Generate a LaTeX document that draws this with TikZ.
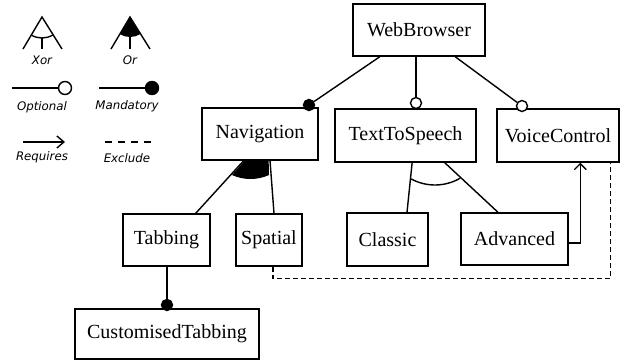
\documentclass[tikz,border=0pt]{standalone}
\usepackage{fontspec}
\setmainfont{Liberation Serif}
\newfontfamily\legendfont{DejaVu Sans}
\usetikzlibrary{arrows.meta,calc,backgrounds}
\begin{document}
\begin{tikzpicture}[x=1pt,y=-1pt,
  feat/.style={draw,line width=1.4pt,fill=white,inner sep=0pt,font=\fontsize{20}{24}\selectfont},
  conn/.style={line width=1.4pt},
  mand/.style={circle,fill=black,draw=black,line width=1.4pt,minimum size=11pt,inner sep=0pt},
  opt/.style={circle,fill=white,draw=black,line width=1.4pt,minimum size=11pt,inner sep=0pt},
  leg/.style={font=\legendfont\itshape\fontsize{11.8}{14}\selectfont,inner sep=0pt},
  req/.style={line width=1.4pt,-{Straight Barb[length=6pt,width=12pt]}},
  excl/.style={line width=1.4pt,dash pattern=on 5pt off 3pt}
]
\useasboundingbox (0,0) rectangle (625,361);

% ---------- legend ----------
\draw[conn] (23,49) -- (42,17) -- (62,49);
\draw[conn] ([shift={(120.7:21)}]42,17) arc[start angle=120.7,end angle=59.3,radius=21];
\draw[conn] (42,38) -- (42,49);
\node[leg] (lxor) at (42,60) {Xor};

\fill (130,17) -- ([shift={(120.7:20)}]130,17) arc[start angle=120.7,end angle=58,radius=20] -- cycle;
\draw[conn] (111,49) -- (130,17) -- (150,49);
\draw[conn] (130,37) -- (130,49);
\node[leg] (lor) at (130,60) {Or};

\coordinate (lopts) at (12,88);
\node[opt,minimum size=13pt] (lopt) at (65,88) {};
\draw[conn] (lopts) -- (lopt);
\node[leg] (loptl) at (42,107) {Optional};

\coordinate (lmands) at (99,88);
\node[mand,minimum size=13pt] (lmand) at (152,88) {};
\draw[conn] (lmands) -- (lmand);
\node[leg] (lmandl) at (127,106) {Mandatory};

\coordinate (lreqs) at (23,142);
\coordinate (lreqe) at (65,142);
\draw[line width=1.4pt,-{Straight Barb[length=7pt,width=12pt]}] (lreqs) -- (lreqe);
\node[leg] (lreql) at (42,157) {Requires};

\coordinate (lexs) at (105,142);
\coordinate (lexe) at (152,142);
\draw[line width=1.6pt,dash pattern=on 7pt off 6pt] (lexs) -- (lexe);
\node[leg] (lexl) at (127,158) {Exclude};

% ---------- features ----------
\node[feat,minimum width=132pt,minimum height=52pt] (wb) at (419,30) {WebBrowser};
\node[feat,minimum width=116pt,minimum height=52pt] (nav) at (260,134) {Navigation};
\node[feat,minimum width=141pt,minimum height=53pt] (tts) at (405.5,135.5) {TextToSpeech};
\node[feat,minimum width=122pt,minimum height=53pt] (vc) at (558,135.5) {VoiceControl};
\node[feat,minimum width=87pt,minimum height=52pt] (tab) at (166.5,240) {Tabbing};
\node[feat,minimum width=66pt,minimum height=52pt] (spa) at (269,240) {Spatial};
\node[feat,minimum width=81pt,minimum height=53pt] (cls) at (387.5,239.5) {Classic};
\node[feat,minimum width=107pt,minimum height=52pt] (adv) at (514.5,239) {Advanced};
\node[feat,minimum width=184pt,minimum height=50pt] (ct) at (167,334) {CustomisedTabbing};

% group origins
\coordinate (navg) at (268,134);
\coordinate (navc) at (250.5,134);
\coordinate (ttsg) at (415,135);
\coordinate (ttsc) at (435,135);

\begin{pgfonlayer}{background}
  % Or group under Navigation
  \fill (navg) -- ([shift={(114.3:45)}]navc) arc[start angle=114.3,end angle=65.7,radius=45] -- cycle;
  \draw[conn] (navg) -- ($(tab.north east)+(-15,0)$);
  \draw[conn] (navg) -- ($(spa.north)+(5,0)$);
  % Xor group under TextToSpeech
  \draw[conn] (ttsg) -- ($(cls.north)+(19.5,0)$);
  \draw[conn] (ttsg) -- ($(adv.north)+(-16.5,0)$);
\end{pgfonlayer}
\draw[conn] ([shift={(118.6:50)}]ttsc) arc[start angle=118.6,end angle=59.8,radius=50];

% mandatory / optional connectors
\node[mand] (mnav) at (309,105) {};
\node[opt] (otts) at (416,103) {};
\node[opt] (ovc) at (522,106) {};
\node[mand] (mct) at (167,305) {};
\draw[conn] (wb) -- (mnav);
\draw[conn] (otts |- wb.south) -- (otts);
\draw[conn] (wb) -- (ovc);
\draw[conn] (mct |- tab.south) -- (mct);

% requires
\draw[req] ($(adv.east)+(0,4)$) -| ($(vc.south west)+(84,0)$);
% exclude
\draw[excl] ($(spa.south)+(4,0)$) -- ++(0,12) -| ($(vc.south east)+(-9,0)$);
\end{tikzpicture}
\end{document}
